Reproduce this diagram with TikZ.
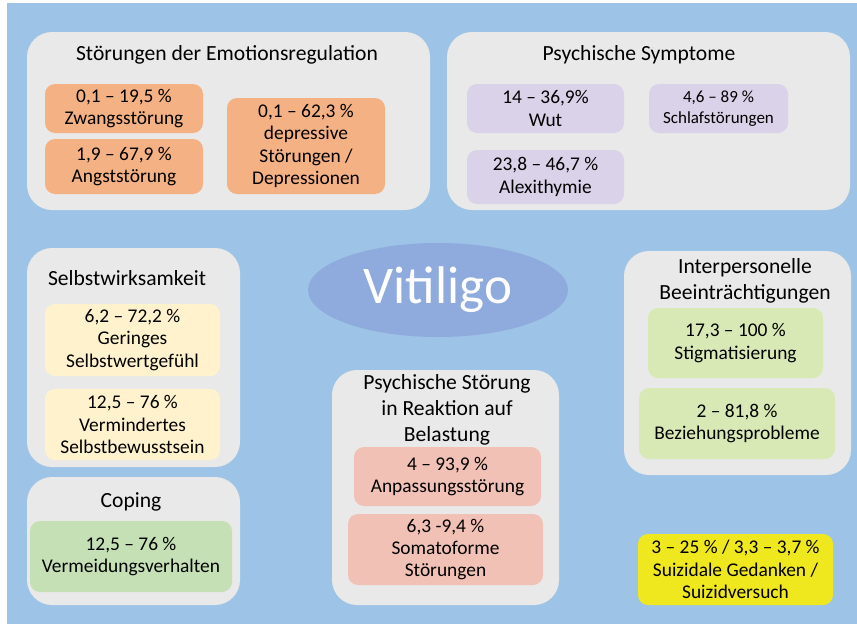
\documentclass[tikz,border=0pt]{standalone}
\usepackage{fontspec}
\setmainfont{Carlito}
\usetikzlibrary{shapes.geometric}

\definecolor{bgblue}{HTML}{9DC3E6}
\definecolor{groupgray}{HTML}{E9E9E9}
\definecolor{ellblue}{HTML}{8FAADC}
\definecolor{orangebox}{HTML}{F4B183}
\definecolor{lavenderbox}{HTML}{D9D2E9}
\definecolor{creambox}{HTML}{FFF2CC}
\definecolor{greenbox}{HTML}{C5E0B4}
\definecolor{limebox}{HTML}{D8E9B5}
\definecolor{pinkbox}{HTML}{F0C1B4}
\definecolor{yellowbox}{HTML}{F0E81E}

\begin{document}
\begin{tikzpicture}[x=1pt,y=-1pt]
\tikzstyle{every node}=[font=\fontsize{19.4}{22.3}\selectfont, align=center, inner sep=0pt]
\tikzstyle{group}=[fill=groupgray, rounded corners=25pt]
\tikzstyle{item}=[rounded corners=10pt]
\tikzstyle{heading}=[font=\fontsize{21.6}{26}\selectfont]

\useasboundingbox (0,0) rectangle (857,624);
\fill[bgblue] (7,3) rectangle (857,624);

% Stoerungen der Emotionsregulation
\node[group, minimum width=403pt, minimum height=178pt] (emo) at (228.5,121) {};
\node[heading, anchor=base] (emoTitle) at (227,60) {Störungen der Emotionsregulation};
\node[item, fill=orangebox, minimum width=158pt, minimum height=49pt] (zwang) at (124,108.5) {0,1 – 19,5 \%\\Zwangsstörung};
\node[item, fill=orangebox, minimum width=158pt, minimum height=55pt] (angst) at (124,166.5) {1,9 – 67,9 \%\\Angststörung};
\node[item, fill=orangebox, minimum width=158pt, minimum height=96pt] (depr) at (306,146) {0,1 – 62,3 \%\\depressive\\Störungen /\\Depressionen};

% Psychische Symptome
\node[group, minimum width=403pt, minimum height=178pt] (sym) at (648.5,121) {};
\node[heading, anchor=base] (symTitle) at (639,60) {Psychische Symptome};
\node[item, fill=lavenderbox, minimum width=157pt, minimum height=49pt] (wut) at (545.5,108.5) {14 – 36,9\%\\Wut};
\node[item, fill=lavenderbox, minimum width=139pt, minimum height=49pt, font=\fontsize{17}{21.5}\selectfont] (schlaf) at (718.5,108.5) {4,6 – 89 \%\\Schlafstörungen};
\node[item, fill=lavenderbox, minimum width=157pt, minimum height=54pt] (alex) at (545.5,177) {23,8 – 46,7 \%\\Alexithymie};

% Selbstwirksamkeit
\node[group, minimum width=213pt, minimum height=219pt] (selbst) at (133.5,357.5) {};
\node[heading, anchor=base] (selbstTitle) at (127,285) {Selbstwirksamkeit};
\node[item, fill=creambox, minimum width=175pt, minimum height=72pt] (gering) at (132.5,340) {6,2 – 72,2 \%\\Geringes\\Selbstwertgefühl};
\node[item, fill=creambox, minimum width=175pt, minimum height=71pt] (vermind) at (132.5,424.5) {12,5 – 76 \%\\Vermindertes\\Selbstbewusstsein};

% Coping
\node[group, minimum width=213pt, minimum height=128pt] (coping) at (133.5,541) {};
\node[heading, anchor=base] (copingTitle) at (131,507) {Coping};
\node[item, fill=greenbox, minimum width=202pt, minimum height=71pt] (vermeid) at (131,556.5) {12,5 – 76 \%\\Vermeidungsverhalten};

% Vitiligo
\node[ellipse, fill=ellblue, minimum width=260pt, minimum height=94pt, text=white, font=\fontsize{53}{60}\selectfont] (vitiligo) at (438,290) {Vitiligo};

% Reaktion auf Belastung
\node[group, minimum width=227pt, minimum height=235pt] (belast) at (445.5,487.5) {};
\node[heading] (belastTitle) at (447,410) {Psychische Störung\\in Reaktion auf\\Belastung};
\node[item, fill=pinkbox, minimum width=187pt, minimum height=59pt] (anpass) at (447.5,476.5) {4 – 93,9 \%\\Anpassungsstörung};
\node[item, fill=pinkbox, minimum width=195pt, minimum height=71pt] (somato) at (445.5,549.5) {6,3 -9,4 \%\\Somatoforme\\Störungen};

% Interpersonelle Beeintraechtigungen
\node[group, minimum width=227pt, minimum height=224pt] (inter) at (737.5,363) {};
\node[heading] (interTitle) at (745,280.5) {Interpersonelle\\Beeinträchtigungen};
\node[item, fill=limebox, minimum width=175pt, minimum height=70pt] (stigma) at (735.5,343) {17,3 – 100 \%\\Stigmatisierung};
\node[item, fill=limebox, minimum width=196pt, minimum height=71pt] (bezieh) at (737,423.5) {2 – 81,8 \%\\Beziehungsprobleme};

% Suizidalitaet
\node[item, fill=yellowbox, minimum width=195pt, minimum height=71pt] (suizid) at (735.5,569.5) {3 – 25 \% / 3,3 – 3,7 \%\\Suizidale Gedanken /\\Suizidversuch};

\end{tikzpicture}
\end{document}
